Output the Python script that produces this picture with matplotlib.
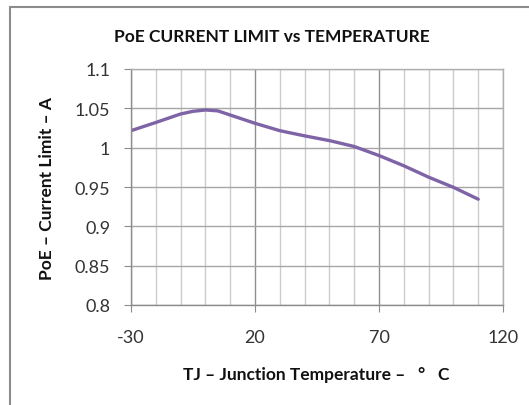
import numpy as np
import matplotlib.pyplot as plt
from matplotlib.ticker import MultipleLocator

plt.rcParams['font.family'] = ['Lato', 'DejaVu Sans']
plt.rcParams['axes.unicode_minus'] = False

# junction temperature (deg C) and PoE current limit (A)
temp = [-30, -20, -10, -5, 0, 5, 10, 20, 30, 40, 50, 60, 70, 80, 90, 100, 110]
current = [1.0216, 1.032, 1.0428, 1.0462, 1.0479, 1.0468, 1.0415, 1.031,
           1.0216, 1.0150, 1.009, 1.0015, 0.990, 0.977, 0.9625, 0.9496, 0.9345]
xticks = [-30, 20, 70, 120]
yticks = [0.8, 0.85, 0.9, 0.95, 1.0, 1.05, 1.1]
ytick_labels = ["0.8", "0.85", "0.9", "0.95", "1", "1.05", "1.1"]

fig = plt.figure(figsize=(5.29, 4.06), dpi=100)

# chart area border (Excel style, cut off at right/bottom)
fig.patches.append(plt.Rectangle((9.5 / 529, -0.1), 1.2, 1 - 8 / 406 + 0.1,
                                 transform=fig.transFigure, fill=False,
                                 edgecolor="#8c8c8c", linewidth=1.5))

ax = fig.add_axes([131 / 529, 1 - 306 / 406, (503 - 131) / 529, (306 - 70) / 406])
ax.plot(temp, current, color="#7E63A6", linewidth=2.4, solid_capstyle="round")

ax.set_xlim(-30, 120)
ax.set_ylim(0.8, 1.1)
ax.set_xticks(xticks)
ax.xaxis.set_minor_locator(MultipleLocator(10))
ax.set_yticks(yticks)
ax.set_yticklabels(ytick_labels)

ax.grid(which="minor", axis="x", color="#cccccc", linewidth=1)
ax.grid(which="major", axis="x", color="#8f8f8f", linewidth=1)
ax.grid(which="major", axis="y", color="#a6a6a6", linewidth=1)
ax.set_axisbelow(True)

for s in ["top", "right"]:
    ax.spines[s].set_color("#b0b0b0")
for s in ["left", "bottom"]:
    ax.spines[s].set_color("#8c8c8c")
for s in ax.spines.values():
    s.set_linewidth(1)

ax.tick_params(which="major", direction="out", length=5, color="#8c8c8c",
               labelsize=13, labelcolor="#333333")
ax.tick_params(which="minor", length=0)
ax.tick_params(axis="x", pad=12)
ax.tick_params(axis="y", pad=10)

fig.text(0.514, 0.909, "PoE CURRENT LIMIT vs TEMPERATURE", ha="center", va="center",
         fontsize=12.5, fontweight="bold", color="#111111")
fig.text(316 / 529, 1 - 375 / 406, "TJ – Junction Temperature –   °   C", ha="center",
         va="center", fontsize=12.5, fontweight="bold", color="#111111")
fig.text(47 / 529, 1 - 188 / 406, "PoE – Current Limit – A", ha="center", va="center",
         rotation=90, fontsize=12.5, fontweight="bold", color="#111111")

plt.savefig("out.png", dpi=100)
